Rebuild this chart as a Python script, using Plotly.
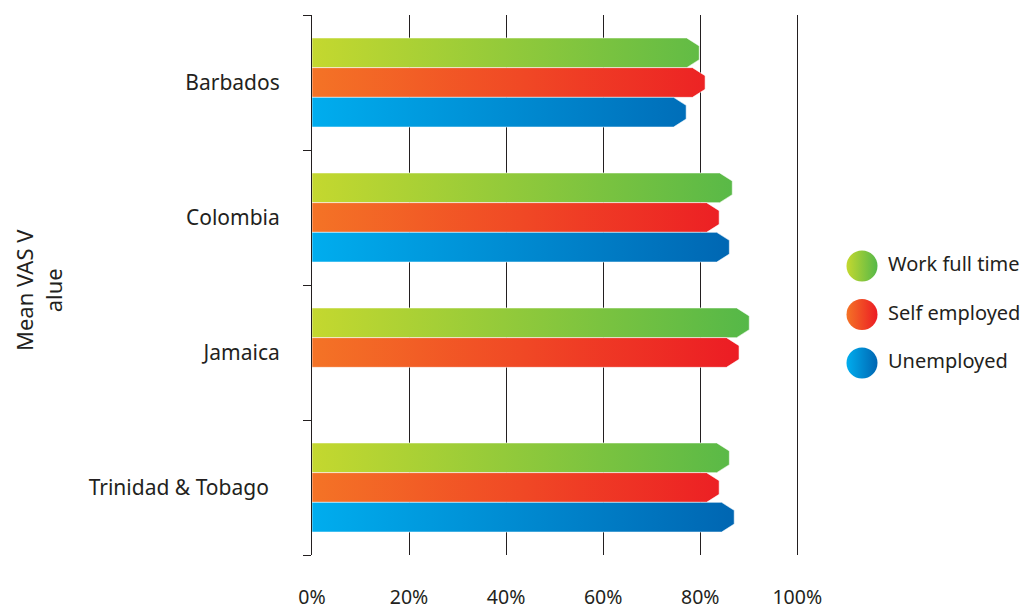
import plotly.graph_objects as go

COUNTRIES = ["Barbados", "Colombia", "Jamaica", "Trinidad & Tobago\u00a0\u00a0"]
SERIES = ["Work full time", "Self employed", "Unemployed"]
WORK_FULL_TIME = [79.8, 86.6, 90.1, 86.0]
SELF_EMPLOYED = [81.0, 83.9, 88.0, 83.9]
UNEMPLOYED = [77.1, 86.0, None, 87.0]
X_TICKS = [0, 20, 40, 60, 80, 100]
X_TICK_LABELS = ["0%", "20%", "40%", "60%", "80%", "100%"]

# left (light) -> right (dark) colours of each gradient
GRADIENTS = [("#c4d82f", "#55b848"), ("#f47326", "#ec1c24"), ("#00adee", "#0066b2")]
FONT = "Noto Sans, sans-serif"
TEXT = "#231f20"

BAR_H = 0.22   # bar thickness in category units
TIP = 2.6      # length of the pointed end, in % units
CUT = 0.27     # share of bar height cut off by each corner of the tip

# page body has an 8px margin, so the figure is 8px smaller than the window
W, H = 1028, 600
OFF = 8


def bar_outline(values, offset):
    xs, ys = [], []
    for i, v in enumerate(values):
        if v is None:
            continue
        top = i + offset - BAR_H / 2
        bot = i + offset + BAR_H / 2
        xs += [0, v - TIP, v, v, v - TIP, 0, 0, None]
        ys += [top, top, top + CUT * BAR_H, bot - CUT * BAR_H, bot, bot, top, None]
    return xs, ys


fig = go.Figure()

for k, (name, vals) in enumerate(zip(SERIES, [WORK_FULL_TIME, SELF_EMPLOYED, UNEMPLOYED])):
    xs, ys = bar_outline(vals, (k - 1) * BAR_H)
    c0, c1 = GRADIENTS[k]
    fig.add_trace(go.Scatter(
        x=xs, y=ys, mode="lines", fill="toself", name=name,
        line={"color": "rgba(255,255,255,0.7)", "width": 0.8},
        fillgradient={"type": "horizontal", "colorscale": [[0, c0], [1, c1]], "start": 0},
        showlegend=False, hoverinfo="skip",
    ))

# legend drawn on its own pixel-scaled axes so the circles can be large
leg_y = [266 + 48.5 * i for i in range(len(SERIES))]
fig.add_trace(go.Scatter(
    x=[862] * len(SERIES), y=leg_y, mode="markers", xaxis="x2", yaxis="y2",
    marker={"size": 31, "color": [g[0] for g in GRADIENTS],
            "gradient": {"type": "horizontal", "color": [g[1] for g in GRADIENTS]}},
    cliponaxis=False, showlegend=False, hoverinfo="skip",
))
fig.add_trace(go.Scatter(
    x=[888] * len(SERIES), y=leg_y, mode="text", text=SERIES, textposition="middle right",
    xaxis="x2", yaxis="y2", textfont={"size": 20, "color": TEXT, "family": FONT},
    cliponaxis=False, showlegend=False, hoverinfo="skip",
))

fig.update_layout(
    template="none",
    width=W, height=H,
    margin={"l": 0, "r": 0, "t": 0, "b": 0},
    paper_bgcolor="white", plot_bgcolor="rgba(0,0,0,0)",
    font={"family": FONT, "color": TEXT, "size": 21},
    showlegend=False,
    xaxis={
        "domain": [(312 - OFF) / W, (807 - OFF) / W], "range": [0, 102],
        "tickvals": X_TICKS, "ticktext": X_TICK_LABELS, "ticks": "",
        "showgrid": True, "gridcolor": "#231f20", "gridwidth": 1,
        "zeroline": False, "showline": False, "ticklabelstandoff": 28,
        "tickfont": {"size": 19.5}, "automargin": False,
    },
    yaxis={
        "domain": [(H - (555 - OFF)) / H, (H - (15 - OFF)) / H], "range": [3.5, -0.5],
        "tickvals": list(range(len(COUNTRIES))), "ticktext": COUNTRIES, "ticks": "",
        "showgrid": False, "zeroline": False,
        "showline": True, "linecolor": "#231f20", "linewidth": 1,
        "minor": {"tickvals": [i - 0.5 for i in range(len(COUNTRIES) + 1)],
                  "ticks": "outside", "ticklen": 8, "tickcolor": "#231f20", "showgrid": False},
        "ticklabelstandoff": 27, "tickfont": {"size": 21}, "automargin": False,
    },
    xaxis2={"domain": [0.8, 1.0], "range": [0.8 * W + OFF, W + OFF], "anchor": "y2", "visible": False},
    yaxis2={"domain": [(H - (555 - OFF)) / H, (H - (15 - OFF)) / H], "range": [555, 15],
            "anchor": "x2", "visible": False},
    annotations=[{
        "text": "Mean VAS V<br>alue", "textangle": -90, "xref": "paper", "yref": "paper",
        "x": (38 - OFF) / W, "y": 1 - (290 - OFF) / H, "xanchor": "center", "yanchor": "middle",
        "showarrow": False, "font": {"size": 22},
    }],
)

fig.write_html("out.html")
